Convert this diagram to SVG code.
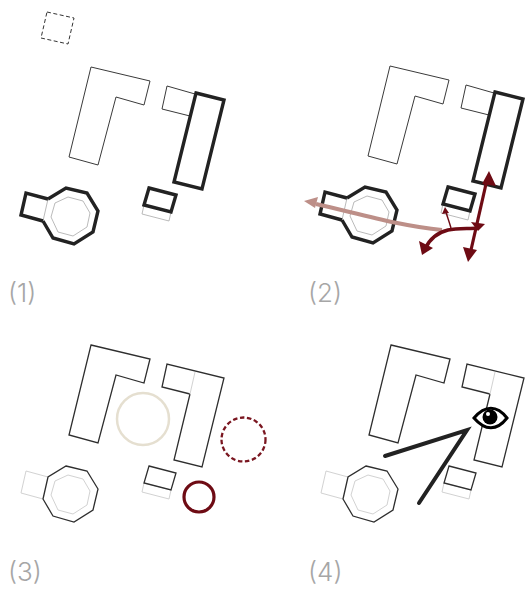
<svg xmlns="http://www.w3.org/2000/svg" width="528" height="589" viewBox="0 0 528 589">
<style>
.t{fill:none;stroke:#3a3a3a;stroke-width:1;stroke-linejoin:miter}
.m{fill:none;stroke:#2e2e2e;stroke-width:1.3;stroke-linejoin:miter}
.b{fill:none;stroke:#222;stroke-width:3.400;stroke-linejoin:miter}
.g{fill:none;stroke:#a8a8a8;stroke-width:.8}
.lg{fill:none;stroke:#d2d2d2;stroke-width:1}
.lbl{font-family:"Inter","Lato",sans-serif;font-weight:300;font-size:26px;fill:#a6a6a6}
.red{fill:none;stroke:#6e0b14;stroke-linecap:butt}
.rf{fill:#6e0b14;stroke:none}
</style>
<defs>
<polygon id="ell" points="91,67 150,81 144,105 116,97 98,165 69,157"/>
<polygon id="oct" points="66,188 87,193 98,211 93,232 74,244 53,238 43,221 48,199"/>
<polygon id="inn" points="68,197 83,201 90,213 87,227 73,236 58,232 51,217 55,203"/>
</defs>

<g id="panel-1">
<g id="site-marker"><polygon points="47,12 74,18 68,44 41,38" fill="none" stroke="#333" stroke-width="1" stroke-dasharray="4 2.5"/></g>
<g id="l-building"><use href="#ell" class="t"/></g>
<g id="annex-1"><polyline class="t" points="195,94 167,86 162,109 190,116"/></g>
<g id="long-building-1"><polygon class="b" points="196,93 224,100 202,189 174,182"/></g>
<g id="small-building-1"><polygon class="g" points="144,205 171,212 169,221 142,214"/><polygon class="b" points="149,188 176,195 171,212 144,205"/></g>
<g id="octagon-1"><use href="#inn" class="g"/><line class="g" x1="48" y1="199" x2="43" y2="221"/><polyline class="b" points="48,199 26,193 21,215 43,221"/><polyline class="b" points="48,199 66,188 87,193 98,211 93,232 74,244 53,238 43,221"/></g>
<text class="lbl" x="8" y="302">(1)</text>
</g>

<g id="panel-2">
<g transform="translate(299,-1)">
<g id="l-building-2"><use href="#ell" class="t"/></g>
<g id="annex-2"><polyline class="t" points="195,94 167,86 162,109 190,116"/></g>
<g id="long-building-2"><polygon class="b" points="196,93 224,100 202,189 174,182"/></g>
<g id="small-building-2"><polygon class="g" points="144,205 171,212 169,221 142,214"/><polygon class="b" points="149,188 176,195 171,212 144,205"/></g>
<g id="octagon-2"><use href="#inn" class="g"/><line class="g" x1="48" y1="199" x2="43" y2="221"/><polyline class="b" points="48,199 26,193 21,215 43,221"/><polyline class="b" points="48,199 66,188 87,193 98,211 93,232 74,244 53,238 43,221"/></g>
</g>
<g id="connectors">
<path d="M442,230 C400,226 360,214 316,204" fill="none" stroke="#bd8f88" stroke-width="4"/>
<polygon points="304,201 318,197 315,208" fill="#bd8f88"/>
<path class="red" stroke-width="3.200" d="M486,184 L471,250"/>
<polygon class="rf" points="489,171 496,186 482,184"/>
<polygon class="rf" points="468,262 463,247 477,250"/>
<polygon class="rf" points="478,231 471,222 485,224"/>
<path class="red" stroke-width="3.400" d="M478,228 C470,229 458,228 448,230 C436,233 429,240 425,249"/>
<polygon class="rf" points="422,255 419,241 433,248"/>
<path class="red" stroke-width="1.500" d="M451,228 C449,221 447,216 446,212"/>
<polygon class="rf" points="445,207 442,214 449,213"/>
</g>
<text class="lbl" x="308" y="302">(2)</text>
</g>

<g id="panel-3">
<g transform="translate(0,278)">
<g id="l-building-3"><use href="#ell" class="m"/></g>
<g id="long-building-3"><polyline class="m" points="190,116 162,109 167,86 224,100 202,189 174,182 190,116"/><line class="lg" x1="195" y1="94" x2="190" y2="116"/></g>
<g id="small-building-3"><polygon class="lg" points="144,205 171,212 169,221 142,214"/><polygon class="m" points="149,188 176,195 171,212 144,205"/></g>
<g id="octagon-3"><polyline class="lg" points="48,199 26,193 21,215 43,221"/><use href="#inn" class="lg"/><use href="#oct" class="m"/></g>
</g>
<g id="circle-beige"><circle cx="143" cy="419" r="26" fill="none" stroke="#e5dfd0" stroke-width="2.500"/></g>
<g id="circle-dashed"><circle cx="243.500" cy="439.500" r="22" fill="none" stroke="#7a1620" stroke-width="2.300" stroke-dasharray="4.500 2.600"/></g>
<g id="circle-red"><circle cx="199" cy="497" r="15" fill="none" stroke="#6e0b14" stroke-width="3.200"/></g>
<text class="lbl" x="8" y="581">(3)</text>
</g>

<g id="panel-4">
<g transform="translate(300,278)">
<g id="l-building-4"><use href="#ell" class="m"/></g>
<g id="long-building-4"><polyline class="m" points="190,116 162,109 167,86 224,100 202,189 174,182 190,116"/><line class="lg" x1="195" y1="94" x2="190" y2="116"/></g>
<g id="small-building-4"><polygon class="lg" points="144,205 171,212 169,221 142,214"/><polygon class="m" points="149,188 176,195 171,212 144,205"/></g>
<g id="octagon-4"><polyline class="lg" points="48,199 26,193 21,215 43,221"/><use href="#inn" class="lg"/><use href="#oct" class="m"/></g>
</g>
<g id="view-cone"><polyline points="385,456 467,430 419,503" fill="none" stroke="#222" stroke-width="4" stroke-linecap="round" stroke-linejoin="miter"/></g>
<g id="eye"><path d="M474,418 C485,405 497,405 507,418 C497,431 485,431 474,418 Z" fill="#fff" stroke="#000" stroke-width="3"/><circle cx="490" cy="417" r="7.500" fill="#000"/><circle cx="488" cy="414" r="2" fill="#fff"/></g>
<text class="lbl" x="308" y="581">(4)</text>
</g>
</svg>
